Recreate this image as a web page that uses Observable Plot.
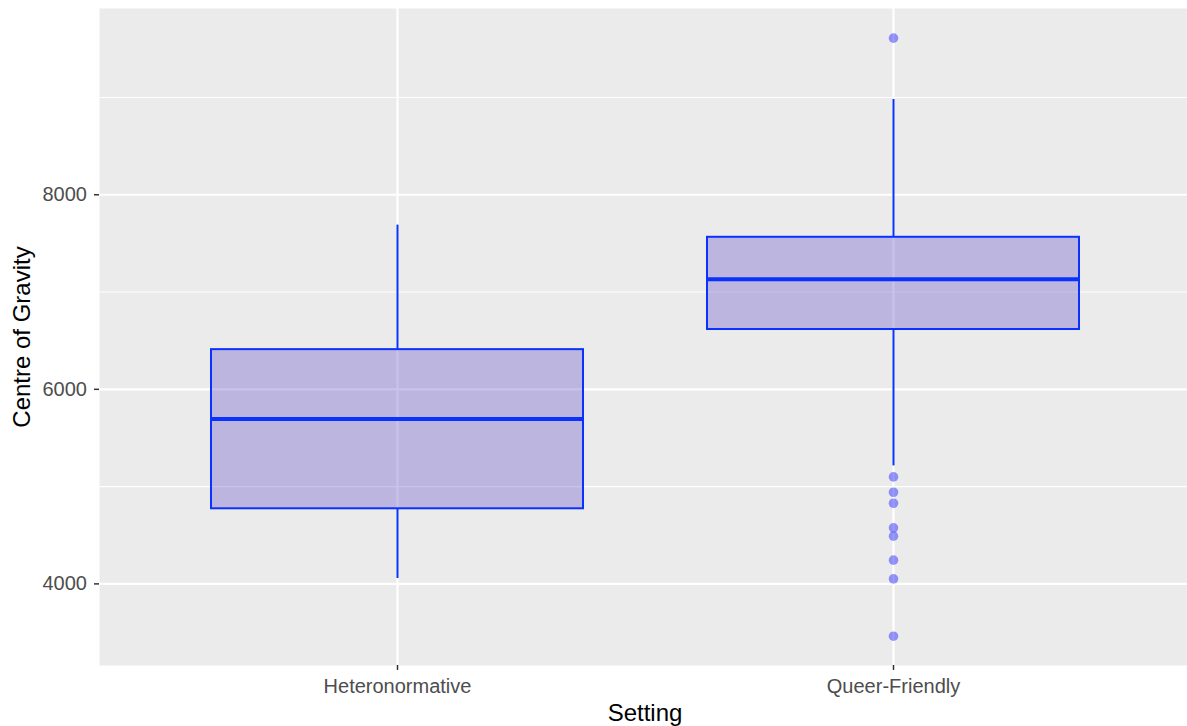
<!DOCTYPE html>
<html>
<head>
<meta charset="utf-8">
<script src="https://cdn.jsdelivr.net/npm/d3@7"></script>
<script src="https://cdn.jsdelivr.net/npm/@observablehq/plot@0.6"></script>
<style>
  html, body { margin: 0; padding: 0; background: #ffffff; }
</style>
</head>
<body>
<div id="chart"></div>
<script>
// Box-plot summary of spectral centre of gravity by setting
const settings = ["Heteronormative", "Queer-Friendly"];
const lowerWhisker = [4055, 5213];
const lowerQuartile = [4772, 6615];
const medians = [5695, 7132];
const upperQuartile = [6408, 7563];
const upperWhisker = [7688, 8980];

// Points beyond the whiskers
const outlierSettings = [
  "Queer-Friendly", "Queer-Friendly", "Queer-Friendly", "Queer-Friendly", "Queer-Friendly",
  "Queer-Friendly", "Queer-Friendly", "Queer-Friendly", "Queer-Friendly"
];
const outlierValues = [9610, 5100, 4942, 4829, 4576, 4490, 4244, 4052, 3462];

// Axis ticks and grid
const majorTicks = [4000, 6000, 8000];
const minorTicks = [5000, 7000, 9000];

const boxes = settings.map((setting, i) => ({
  setting,
  lo: lowerWhisker[i],
  q1: lowerQuartile[i],
  med: medians[i],
  q3: upperQuartile[i],
  hi: upperWhisker[i]
}));
const outliers = outlierValues.map((value, i) => ({setting: outlierSettings[i], value}));

const edge = "#0A32FF";

const chart = Plot.plot({
  width: 1187,
  height: 726,
  marginLeft: 99,
  marginRight: 0,
  marginTop: 8,
  marginBottom: 61,
  style: {
    fontFamily: "'Liberation Sans', Arial, Helvetica, sans-serif",
    fontSize: "20px",
    background: "#ffffff",
    overflow: "visible"
  },
  x: {
    type: "band",
    domain: settings,
    range: [99.3, 1191],
    paddingInner: 0.25,
    paddingOuter: 0.225,
    align: 0.5,
    axis: null
  },
  y: {domain: [3161, 9915], axis: null},
  marks: [
    Plot.frame({fill: "#EBEBEB"}),
    Plot.gridY(minorTicks, {stroke: "#ffffff", strokeOpacity: 1, strokeWidth: 1.1}),
    Plot.gridY(majorTicks, {stroke: "#ffffff", strokeOpacity: 1, strokeWidth: 2.1}),
    Plot.gridX(settings, {stroke: "#ffffff", strokeOpacity: 1, strokeWidth: 2.1}),
    // whiskers
    Plot.ruleX(boxes, {x: "setting", y1: "q3", y2: "hi", stroke: edge, strokeWidth: 2}),
    Plot.ruleX(boxes, {x: "setting", y1: "lo", y2: "q1", stroke: edge, strokeWidth: 2}),
    // interquartile boxes
    Plot.barY(boxes, {
      x: "setting", y1: "q1", y2: "q3",
      fill: "rgb(100,81,200)", fillOpacity: 0.35,
      stroke: edge, strokeWidth: 2, inset: 0
    }),
    // medians
    Plot.tickY(boxes, {x: "setting", y: "med", stroke: edge, strokeWidth: 4}),
    // outliers
    Plot.dot(outliers, {x: "setting", y: "value", r: 4.8, fill: "#0000FF", fillOpacity: 0.4, stroke: null}),
    // axes
    Plot.axisY(majorTicks, {
      tickSize: 5, tickPadding: 7.5, stroke: "#333333", strokeWidth: 1.5,
      fill: "#4D4D4D", fontSize: 20, tickFormat: d => `${d}`, label: null
    }),
    Plot.axisX(settings, {
      tickSize: 5, tickPadding: 8, stroke: "#333333", strokeWidth: 1.5,
      fill: "#4D4D4D", fontSize: 20, label: null
    }),
    // axis titles
    Plot.text(["Setting"], {
      frameAnchor: "bottom", lineAnchor: "bottom", textAnchor: "middle", dx: 1.5, dy: 55,
      fontSize: 24, fill: "#000000"
    }),
    Plot.text(["Centre of Gravity"], {
      frameAnchor: "left", lineAnchor: "bottom", textAnchor: "middle", rotate: -90, dx: -70,
      fontSize: 24, fill: "#000000"
    })
  ]
});

document.getElementById("chart").appendChild(chart);
</script>
</body>
</html>
